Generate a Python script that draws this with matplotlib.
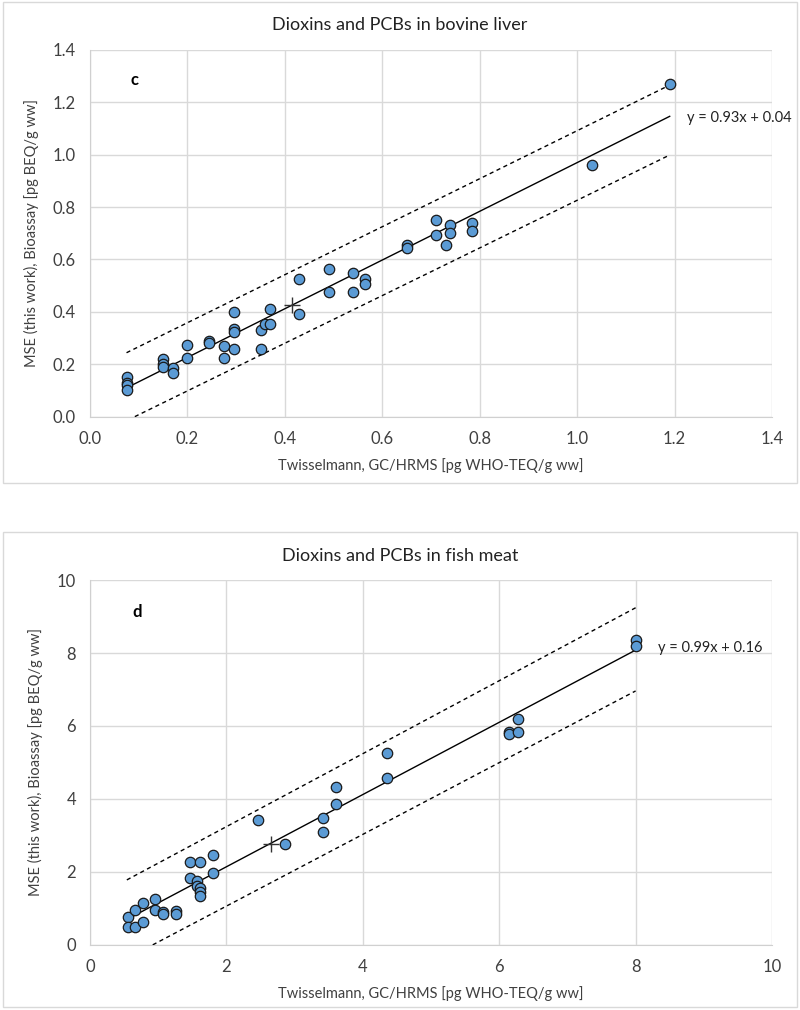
import matplotlib
matplotlib.use("Agg")
import matplotlib.pyplot as plt
from matplotlib.patches import Rectangle

plt.rcParams['font.family'] = ['Lato', 'DejaVu Sans']

# --- panel c: bovine liver ---
liver_x = [0.075, 0.075, 0.075, 0.075, 0.15, 0.15, 0.15, 0.17, 0.17, 0.20, 0.20,
           0.245, 0.245, 0.275, 0.275, 0.295, 0.295, 0.295, 0.295, 0.35, 0.35, 0.36,
           0.37, 0.37, 0.43, 0.43, 0.49, 0.49, 0.54, 0.54, 0.565, 0.565, 0.65, 0.65,
           0.71, 0.71, 0.73, 0.74, 0.74, 0.785, 0.785, 1.03, 1.19]
liver_y = [0.15, 0.13, 0.12, 0.10, 0.22, 0.20, 0.19, 0.185, 0.165, 0.275, 0.225,
           0.29, 0.28, 0.27, 0.225, 0.40, 0.335, 0.325, 0.26, 0.33, 0.26, 0.355,
           0.41, 0.355, 0.525, 0.39, 0.565, 0.475, 0.55, 0.475, 0.525, 0.505, 0.655, 0.645,
           0.75, 0.695, 0.655, 0.73, 0.70, 0.74, 0.71, 0.96, 1.27]
liver_fit = (0.93, 0.04)
liver_fit_x = [0.075, 1.19]
liver_upper = ([0.075, 1.19], [0.244, 1.266])
liver_lower = ([0.092, 1.19], [0.0, 0.999])
liver_mean = (0.415, 0.426)

# --- panel d: fish meat ---
fish_x = [0.55, 0.55, 0.66, 0.66, 0.77, 0.77, 0.96, 0.96, 1.07, 1.07, 1.26, 1.26,
          1.47, 1.47, 1.62, 1.57, 1.57, 1.62, 1.62, 1.62, 1.81, 1.81, 2.47, 2.86,
          3.42, 3.42, 3.61, 3.61, 4.36, 4.36, 6.14, 6.14, 6.27, 6.27, 8.0, 8.0]
fish_y = [0.76, 0.48, 0.96, 0.50, 1.16, 0.64, 1.26, 0.96, 0.91, 0.85, 0.93, 0.85,
          2.27, 1.82, 2.27, 1.75, 1.62, 1.55, 1.45, 1.35, 2.46, 1.98, 3.42, 2.77,
          3.49, 3.10, 4.32, 3.85, 5.25, 4.58, 5.83, 5.77, 6.18, 5.84, 8.35, 8.2]
fish_fit = (0.99, 0.16)
fish_fit_x = [0.55, 8.0]
fish_upper = ([0.54, 8.0], [1.78, 9.24])
fish_lower = ([0.92, 8.0], [0.0, 6.96])
fish_mean = (2.66, 2.77)

x_label = 'Twisselmann, GC/HRMS [pg WHO-TEQ/g ww]'
y_label = 'MSE (this work), Bioassay [pg BEQ/g ww]'

fig = plt.figure(figsize=(8, 10.1), dpi=100)

# panel frames
for y0, h in [(0.522, 0.476), (0.003, 0.470)]:
    fig.patches.append(Rectangle((0.004, y0), 0.992, h, transform=fig.transFigure,
                                 fill=False, edgecolor='#d9d9d9', lw=1.0))

ax_c = fig.add_axes([0.1125, 0.5875, 0.8525, 0.3630])
ax_d = fig.add_axes([0.1125, 0.0645, 0.8525, 0.3612])

panels = [
    (ax_c, liver_x, liver_y, liver_fit, liver_fit_x, liver_upper, liver_lower, liver_mean,
     1.4, 0.2, 'Dioxins and PCBs in bovine liver', 0.975, 'c', (0.092, 1.285),
     (1.225, 1.14)),
    (ax_d, fish_x, fish_y, fish_fit, fish_fit_x, fish_upper, fish_lower, fish_mean,
     10, 2, 'Dioxins and PCBs in fish meat', 0.4495, 'd', (0.69, 9.12),
     (8.33, 8.14)),
]

for (ax, xs, ys, fit, fit_x, upper, lower, mean, lim, step, title, ty, letter,
     letter_pos, eq_pos) in panels:
    m, b = fit
    ax.plot(fit_x, [m * v + b for v in fit_x], color='black', lw=1.0, zorder=3)
    ax.plot(upper[0], upper[1], color='black', lw=1.0, ls=(0, (3, 2.5)), zorder=3)
    ax.plot(lower[0], lower[1], color='black', lw=1.0, ls=(0, (3, 2.5)), zorder=3)
    ax.plot(xs, ys, 'o', ms=7.5, mfc='#5b9bd5', mec='#1a1a1a', mew=0.9, zorder=4)
    ax.plot([mean[0]], [mean[1]], '+', ms=11, color='#333333', mew=1.0, zorder=5)

    ax.set_xlim(0, lim)
    ax.set_ylim(0, lim)
    ticks = [i * step for i in range(int(round(lim / step)) + 1)]
    ax.set_xticks(ticks)
    ax.set_yticks(ticks)
    if step < 1:
        ax.set_xticklabels([f'{t:.1f}' for t in ticks])
        ax.set_yticklabels([f'{t:.1f}' for t in ticks])
    else:
        ax.set_xticklabels([f'{t:g}' for t in ticks])
        ax.set_yticklabels([f'{t:g}' for t in ticks])
    ax.tick_params(length=0, labelsize=12, colors='#404040', pad=10)
    ax.grid(True, color='#d9d9d9', lw=1.0)
    ax.set_axisbelow(True)
    for s in ['top', 'right']:
        ax.spines[s].set_visible(False)
    for s in ['left', 'bottom']:
        ax.spines[s].set_color('#d0d0d0')

    ax.set_xlabel(x_label, fontsize=10.5, color='#404040', labelpad=8)
    ax.set_ylabel(y_label, fontsize=10.5, color='#404040', labelpad=10)
    ax.text(letter_pos[0], letter_pos[1], letter, fontsize=12, fontweight='bold',
            ha='center', va='center')
    ax.text(eq_pos[0], eq_pos[1], f'y = {m:.2f}x + {b:.2f}', fontsize=10.5,
            ha='left', va='center', color='#222222', clip_on=False)
    fig.text(0.5, ty, title, fontsize=13, ha='center', va='center', color='#222222')

fig.savefig('out.png', dpi=100)
